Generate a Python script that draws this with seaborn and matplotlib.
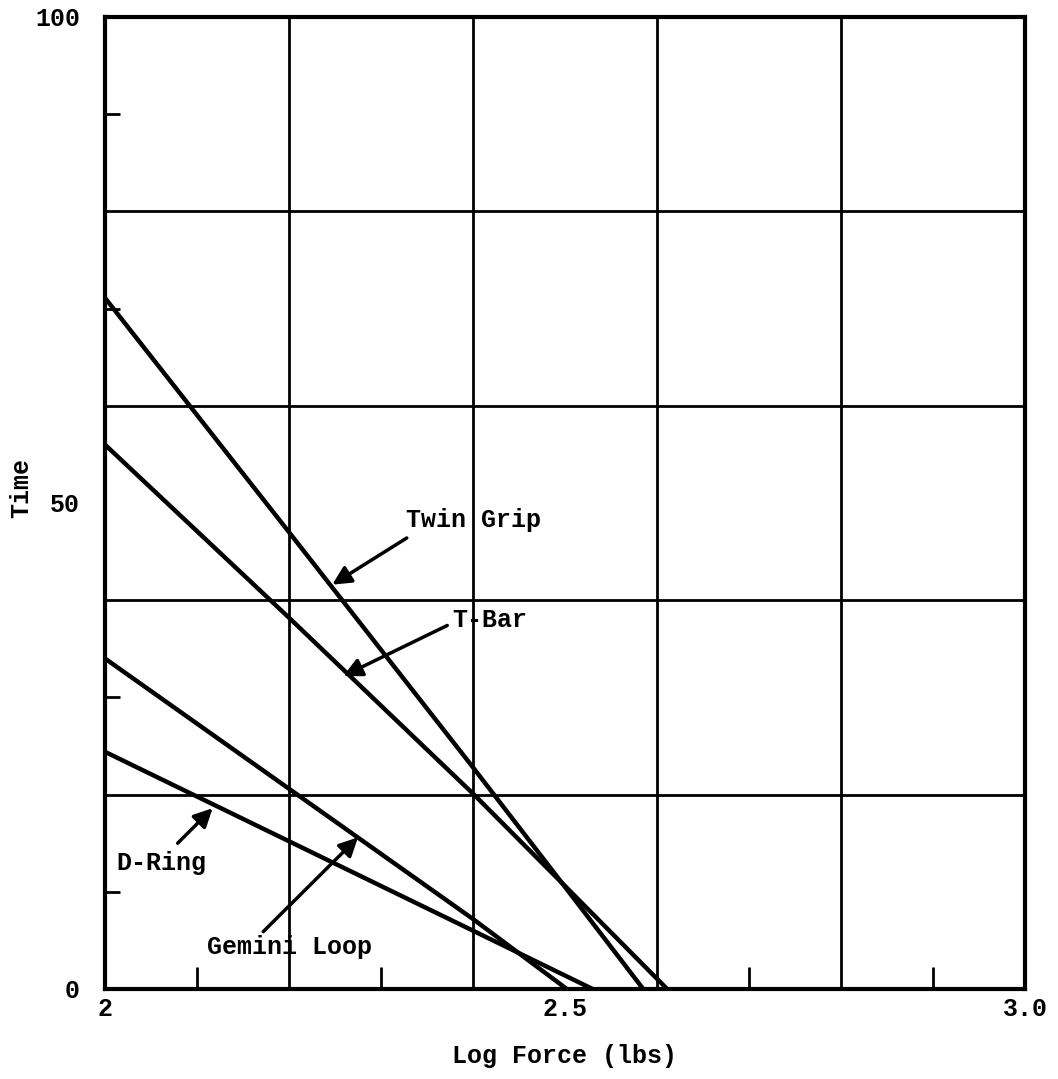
import pandas as pd
import seaborn as sns
import matplotlib.pyplot as plt

# curves
twin_x = [2.0, 2.2, 2.4, 2.5, 2.585]
twin_y = [71.1, 47.0, 22.8, 10.5, 0.0]
tbar_x = [2.0, 2.2, 2.4, 2.5, 2.611]
tbar_y = [56.0, 38.2, 20.1, 10.6, 0.0]
gemini_x = [2.0, 2.2, 2.4, 2.502]
gemini_y = [34.0, 20.6, 7.2, 0.0]
dring_x = [2.0, 2.2, 2.4, 2.530]
dring_y = [24.4, 15.2, 6.0, 0.0]

x_labels = ["2", "2.5", "3.0"]
x_label_pos = [2.0, 2.5, 3.0]
y_labels = ["0", "50", "100"]
y_label_pos = [0, 50, 100]
x_minor = [2.1, 2.3, 2.5, 2.7, 2.9]
y_minor = [10, 30, 50, 70, 90]
grid_x = [2.2, 2.4, 2.6, 2.8]
grid_y = [20, 40, 60, 80]

series = {
    "Twin Grip": (twin_x, twin_y),
    "T-Bar": (tbar_x, tbar_y),
    "Gemini Loop": (gemini_x, gemini_y),
    "D-Ring": (dring_x, dring_y),
}
frames = [pd.DataFrame({"force": xs, "time": ys, "handle": name})
          for name, (xs, ys) in series.items()]
df = pd.concat(frames, ignore_index=True)

sns.set_theme(style="white")
plt.rcParams['font.family'] = ['Liberation Mono', 'DejaVu Sans Mono']
plt.rcParams['font.weight'] = 'bold'
plt.rcParams['axes.labelweight'] = 'bold'

fig = plt.figure(figsize=(10.58, 10.79), dpi=100)
ax = fig.add_axes([105 / 1058, 1 - 989 / 1079, 920 / 1058, 972 / 1079])

# grid lines of the printed graph paper
ax.vlines(grid_x, 0, 100, colors='black', lw=2.0, zorder=1)
ax.hlines(grid_y, 2.0, 3.0, colors='black', lw=2.0, zorder=1)

for name in series:
    sub = df[df['handle'] == name]
    sns.lineplot(data=sub, x="force", y="time", color='black', lw=3.2,
                 estimator=None, ax=ax, zorder=3)

ax.set_xlim(2.0, 3.0)
ax.set_ylim(0, 100)
ax.set_xticks(x_label_pos)
ax.set_xticklabels(x_labels)
ax.set_yticks(y_label_pos)
ax.set_yticklabels(y_labels)
ax.set_xticks(x_minor, minor=True)
ax.set_yticks(y_minor, minor=True)
ax.tick_params(axis='both', which='major', length=0, labelsize=18, colors='black')
ax.tick_params(axis='y', which='major', pad=18)
ax.tick_params(axis='x', which='major', pad=6)
ax.tick_params(axis='x', which='minor', direction='in', length=16, width=2,
               bottom=True, color='black')
ax.tick_params(axis='y', which='minor', direction='in', length=11, width=2,
               left=True, color='black')

for s in ax.spines.values():
    s.set_visible(True)
    s.set_color('black')
    s.set_linewidth(3)

ax.set_xlabel("Log Force (lbs)", fontsize=18, color='black')
ax.set_ylabel("Time", fontsize=18, color='black')
ax.xaxis.set_label_coords(0.5, -0.057)
ax.yaxis.set_label_coords(-0.078, 0.515)

# callouts
arrow = dict(arrowstyle='-|>', color='black', lw=2.5, mutation_scale=28,
             shrinkA=0, shrinkB=0)
callouts = [
    ("Twin Grip", (2.401, 48.3), (2.328, 46.4), (2.247, 41.6)),
    ("T-Bar", (2.418, 38.0), (2.372, 37.4), (2.259, 32.2)),
    ("D-Ring", (2.061, 13.0), (2.079, 15.0), (2.117, 18.6)),
    ("Gemini Loop", (2.201, 4.3), (2.172, 5.9), (2.275, 15.6)),
]
for label, txt_pos, tail, head in callouts:
    ax.text(txt_pos[0], txt_pos[1], label, fontsize=18, ha='center',
            va='center', color='black', zorder=4)
    ax.annotate('', xy=head, xytext=tail, arrowprops=arrow, zorder=4)

fig.savefig("out.png", dpi=100)
